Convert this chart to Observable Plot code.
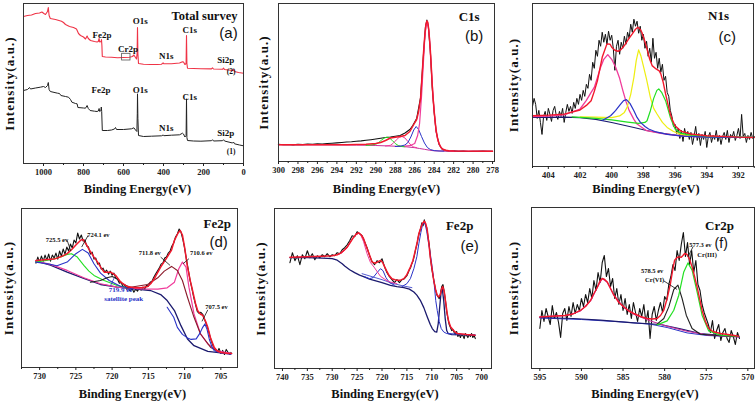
<!DOCTYPE html>
<html><head><meta charset="utf-8">
<script src="https://cdn.jsdelivr.net/npm/d3@7"></script>
<script src="https://cdn.jsdelivr.net/npm/@observablehq/plot@0.6"></script>
<style>
body{margin:0;background:#fff}
#fig{position:relative;width:756px;height:403px;overflow:hidden;background:#fff}
#fig > svg{position:absolute}
</style></head><body><div id="fig"></div>
<script>
// ---------- colours ----------
const RED="#f2182c", PINK="#f03c9b", MAG="#c8309a", BLUE="#2a33c8", NAVY="#1b1a6e",
      GREEN="#22e022", YELLOW="#eeee10", BLACK="#111", BROWN="#8b1a2a", SRED="#ef3346";

// ---------- (a) survey ----------
const surveyTicks=[1000,800,600,400,200,0];
const surveyMinor=[900,700,500,300,100];
const surveyRed=[[1100,147],[1080,148],[1060,148.5],[1040,150],[1020,150.5],[1008,151.5],[998,150],[990,149],[980,152],[976,156],[972,148],[966,145],[940,144],[910,142.3],[900,141],[890,139],[870,137],[850,136],[835,134.5],[825,130],[815,128],[800,126.5],[790,124.5],[782,127.5],[776,125],[765,123],[745,122],[732,121.5],[726,122],[722,125],[719,121.5],[712,122],[710,124],[708,118],[706,107],[690,106.5],[660,106.2],[630,105.8],[600,106],[570,106.3],[555,107],[548,108.5],[540,106],[535,104.5],[532,110],[530,136],[528,110],[525,100],[500,99.3],[465,99],[430,99],[410,99.3],[402,100.6],[398,99.7],[360,99.8],[320,100.5],[305,101.8],[300,101.5],[293,99],[287,100],[285,128],[283,100],[280,95.3],[250,95],[213,94.7],[160,94.6],[155,95.6],[150,94.5],[105,94.2],[100,95.3],[95,94],[55,93],[50,94],[45,92],[25,91],[0,90.3]];
const surveyBlack=[[1100,73],[1080,74],[1070,76],[1065,74.5],[1040,75.5],[1016,76.3],[1000,77],[990,76],[980,78],[976,81],[972,74],[966,72],[930,70.3],[920,70],[913,68],[890,67],[875,66.3],[865,64],[858,61.3],[840,60],[832,59.7],[828,56],[800,55.5],[790,55.3],[782,58],[776,55],[767,53],[745,52.3],[732,52],[726,52.5],[722,55],[719,52],[713,53],[711,56.5],[709,52],[706,33],[680,33],[660,33.5],[645,34.5],[640,36],[635,34],[600,34],[560,34.7],[548,35.7],[540,33.5],[533,32],[531,50],[530,69.7],[528,45],[525,28],[500,27],[460,27.3],[410,27.7],[402,28.5],[398,27.8],[360,28.3],[320,28.7],[305,30.3],[300,29.5],[293,26.5],[287,28],[285,64.7],[283,26],[280,23],[250,22.5],[213,22.3],[160,22.8],[155,23.8],[150,22.5],[105,22.8],[100,23.8],[95,22.5],[55,20.5],[50,21.5],[45,19.7],[20,18.5],[0,17.7]];
const surveyBox=[[607,565,103,109.7]];
const surveyPeakLabels=[[707,128.7,"Fe2p"],[578,114.7,"Cr2p"],[516,142.3,"O1s"],[386,107.3,"N1s"],[269,133,"C1s"],[88.5,103,"Si2p"],[713,73.7,"Fe2p"],[516,73.7,"O1s"],[269,66.3,"C1s"],[386,35.7,"N1s"],[88.5,30.3,"Si2p"]];
const surveyIndex=[[62,92.3,"(2)"],[62,12.3,"(1)"]];

// ---------- (b) C1s ----------
const c1sTicks=[300,298,296,294,292,290,288,286,284,282,280,278];
const c1sMinor=[299,297,295,293,291,289,287,285,283,281,279];
const c1sBlack=[[300,17.3],[299.5,16.8],[299,17.0],[298.5,16.6],[298,17.1],[297.5,16.9],[297,17.4],[296.5,17.2],[296,17.6],[295.5,17.5],[295,18.0],[294.5,18.3],[294,18.6],[293.5,19.0],[293,19.5],[292.5,19.8],[292,20.3],[291.5,20.6],[291,21.2],[290.5,21.8],[290,22.5],[289.5,23.3],[289,24.0],[288.5,24.5],[288,25.2],[287.5,26.0],[287,28.5],[286.5,32],[286.2,36],[285.8,43],[285.4,64],[285.1,107],[284.9,134],[284.75,141.5],[284.6,135],[284.4,111],[284.2,74],[284.0,49],[283.8,30],[283.5,17],[283.2,12.5],[283,11],[282.5,10.2],[282,10.6],[281.5,10.1],[281,10.4],[280.5,10.0],[280,10.3],[279.5,10.1],[279,10.4],[278.5,10.2],[278,10.3]];
const c1sBase=[[300,16.7],[295,16.6],[292,16.4],[290,16],[288,15.3],[287,14.8],[286,13.8],[285.5,13],[285,12.2],[284.5,11.3],[284,10.7],[283,10.4],[278,10.3]];
const c1sGreen=[[291,16.2],[290.5,16.5],[290,17.3],[289.7,19],[289.4,21.5],[289.1,23.6],[288.85,24.3],[288.6,23.5],[288.3,21],[288,18],[287.7,16],[287.3,15],[287,14.7]];
const c1sMag=[[289,15.5],[288.5,16.2],[288.2,18.3],[287.9,21.5],[287.6,24.2],[287.3,25],[287.0,23.5],[286.7,20],[286.4,16.5],[286.1,14.5],[285.8,13.8]];
const c1sBlue=[[288,15],[287.5,15.3],[287,16.5],[286.7,19],[286.4,24.5],[286.1,31.5],[285.85,35],[285.6,32],[285.3,25],[285.0,18.5],[284.7,14],[284.4,12],[284,10.9],[283.5,10.5],[283,10.4]];
const c1sMain=[[287,15.3],[286.5,15.8],[286,18],[285.7,26],[285.5,38],[285.3,65],[285.1,100],[284.95,126],[284.8,137],[284.7,138.5],[284.6,135],[284.5,126],[284.4,111],[284.25,87],[284.1,63],[283.95,45],[283.8,30],[283.6,20.5],[283.4,15.5],[283.2,12.8],[283,11.5],[282.5,10.6],[282,10.4]];
const c1sFit=[[300,16.7],[296,16.7],[293,16.8],[291,17.3],[290,17.9],[289.5,19],[289,21],[288.5,23.5],[288,24.3],[287.5,25],[287,26],[286.5,30],[286.1,37],[285.8,42],[285.6,50],[285.4,63],[285.25,85],[285.1,108],[284.95,128],[284.85,137],[284.75,140.5],[284.65,139],[284.55,131],[284.4,112],[284.3,95],[284.2,76],[284.1,62],[284.0,50],[283.9,40],[283.8,31],[283.65,23],[283.5,18],[283.3,14],[283.1,12.3],[282.8,11.2],[282.5,10.7],[282,10.4],[278,10.3]];

// ---------- (c) N1s ----------
const n1sTicks=[404,402,400,398,396,394,392];
const n1sMinor=[405,403,401,399,397,395,393,391];
const n1sBlack=[[405,60],[404.9,68],[404.8,62],[404.7,48],[404.6,56],[404.5,44],[404.4,32],[404.3,50],[404.2,55],[404.1,46],[404,58],[403.9,52],[403.8,45],[403.7,56],[403.6,60],[403.5,51],[403.4,47],[403.3,55],[403.2,50],[403.1,58],[403,44],[402.9,54],[402.8,62],[402.7,55],[402.6,60],[402.5,53],[402.4,64],[402.3,58],[402.2,68],[402.1,62],[402,72],[401.9,66],[401.8,76],[401.7,70],[401.6,82],[401.5,78],[401.4,92],[401.3,86],[401.2,104],[401.1,98],[401,116],[400.9,110],[400.8,126],[400.7,120],[400.6,134],[400.5,124],[400.4,132],[400.3,122],[400.2,135],[400.1,126],[400,131],[399.9,118],[399.8,96],[399.7,120],[399.6,126],[399.5,112],[399.4,124],[399.3,118],[399.2,130],[399.1,122],[399,134],[398.9,128],[398.8,142],[398.7,134],[398.6,147],[398.5,140],[398.4,145],[398.3,133],[398.2,140],[398.1,126],[398,132],[397.9,118],[397.8,125],[397.7,110],[397.6,118],[397.5,104],[397.4,128],[397.3,108],[397.2,114],[397.1,98],[397,108],[396.9,94],[396.8,102],[396.7,86],[396.6,90],[396.5,74],[396.4,70],[396.3,56],[396.2,50],[396.1,40],[396,42],[395.9,33],[395.8,38],[395.7,28],[395.6,36],[395.5,25],[395.4,38],[395.3,30],[395.2,35],[395.1,27],[395,34],[394.9,22],[394.8,30],[394.7,40],[394.6,26],[394.5,33],[394.4,21],[394.3,32],[394.2,27],[394.1,35],[394,19],[393.9,30],[393.8,34],[393.7,24],[393.6,31],[393.5,27],[393.4,36],[393.3,25],[393.2,31],[393.1,22],[393,30],[392.9,34],[392.8,27],[392.7,36],[392.6,24],[392.5,32],[392.4,29],[392.3,35],[392.2,26],[392.1,31],[392,38],[391.9,28],[391.8,52],[391.7,30],[391.6,33],[391.5,24],[391.4,31],[391.3,27],[391.2,34],[391.1,28],[391,30]];
const n1sBase=[[405,49],[403,49.3],[402,48.8],[401,47],[400,44],[399.3,41.5],[398.6,39],[397.8,36],[397.1,34],[395.7,30.7],[394,29.6],[391,29]];
const n1sPink=[[405,49.7],[404,50.2],[403,51.5],[402,57.4],[401.6,66],[401.3,74],[401.1,79],[400.9,89],[400.7,99],[400.5,107],[400.25,111.7],[400,107],[399.75,99],[399.5,88],[399.3,76],[399.1,65],[398.9,56],[398.6,47],[398.4,42.4],[397.8,35.7],[396.9,33],[395.7,30.7],[394.4,29.7],[391,29]];
const n1sYellow=[[402,49.5],[401,49.2],[400,48.8],[399.5,50.5],[399.2,54],[399.03,59],[398.8,72],[398.6,89],[398.45,106],[398.3,116.4],[398.15,110],[397.98,99],[397.8,87],[397.56,69],[397.35,58],[397.14,52.4],[396.8,44],[396.5,39],[396.1,35],[395.7,32.4],[395,30.5],[394,29.6],[391,29]];
const n1sGreen=[[402.5,49.5],[401,48],[400,46.5],[399,44.3],[398.3,43],[397.9,44],[397.77,45.7],[397.56,55.7],[397.35,68],[397.15,76],[397.03,77.4],[396.85,74],[396.6,65.7],[396.3,49],[396,37.4],[395.6,33],[395.25,32],[394,29.5],[391,29]];
const n1sBlue=[[400.6,46],[400.07,50.7],[399.76,55.7],[399.45,62],[399.25,65.8],[399.07,66.7],[398.85,63],[398.6,55.7],[398.4,49],[398.19,44],[397.9,40],[397.67,37.4],[397.2,34.5],[396.5,32],[395.5,30.3],[394,29.4],[391,29]];
const n1sFit=[[405,50.7],[404,51.3],[403,52.3],[402,56.4],[401.6,61],[401.3,65.7],[401.1,75],[400.9,85.7],[400.6,109],[400.3,122.4],[400.1,122],[400,119],[399.8,116],[399.6,115],[399.4,117],[399.2,120.7],[398.95,127],[398.7,132.4],[398.5,137],[398.35,139],[398.2,137],[398.1,134],[397.95,127],[397.8,119],[397.6,107],[397.45,100.7],[397.2,97.4],[397.0,95.5],[396.9,92.4],[396.75,84],[396.6,72.4],[396.45,62],[396.3,52.4],[396.15,45.5],[396,40.7],[395.6,35],[395,32.4],[394,30.7],[392,29.3],[391,29]];

// ---------- (d) Fe2p ----------
const fedTicks=[730,725,720,715,710,705];
const fedMinor=[732.5,727.5,722.5,717.5,712.5,707.5];
const fedBlack=[[730.5,104],[730.25,110],[730,105],[729.75,111],[729.5,106],[729.25,112],[729,107],[728.75,113],[728.5,106],[728.25,112],[728,109],[727.75,114],[727.5,108],[727.25,116],[727,111],[726.75,118],[726.5,113],[726.25,120],[726,116],[725.75,123],[725.5,119],[725.25,127],[725,124],[724.75,134],[724.5,128],[724.25,132],[724,126],[723.75,127],[723.5,121],[723.25,120],[723,113],[722.75,115],[722.5,108],[722.25,109],[722,103],[721.75,104],[721.5,98],[721.25,99],[721,95],[720.75,97],[720.5,93],[720.25,96],[720,92],[719.75,94],[719.5,89],[719.25,88],[719,84],[718.75,85],[718.5,80],[718.25,82],[718,78],[717.75,79],[717.5,76],[717.25,79],[717,75],[716.75,78],[716.5,76],[716.25,79],[716,77],[715.75,80],[715.5,78],[715.25,82],[715,81],[714.75,85],[714.5,86],[714.25,90],[714,93],[713.75,96],[713.5,99],[713.25,103],[713,104],[712.75,109],[712.5,110],[712.25,114],[712,116],[711.75,121],[711.5,124],[711.25,130],[711,133],[710.75,138],[710.5,135],[710.25,128],[710,119],[709.75,108],[709.5,98],[709.25,87],[709,79],[708.75,70],[708.5,63],[708.25,56],[708,54],[707.75,55],[707.5,53],[707.25,48],[707,43],[706.75,38],[706.5,31],[706.25,25],[706,20],[705.75,18],[705.5,15],[705.25,19],[705,14],[704.75,17],[704.5,13],[704.25,18],[704,15],[703.75,13],[703.6,15]];
const fedNavy=[[730.55,106],[728.5,102],[726.2,95],[724,89],[721.6,82.7],[719.3,80],[717,78.4],[714.7,76.7],[713.3,72.7],[712.4,66.7],[711.4,56.7],[710.5,41.7],[709.6,28.4],[708.7,21.7],[706.8,16],[705,14.5],[703.6,14]];
const fedPink=[[730.55,106],[728.5,102.7],[726.2,96.7],[723.9,89.4],[721.6,83.4],[719.3,80],[716,78.4],[713.7,78],[712.4,79.4],[711.4,85],[710.8,98.4],[710.3,105],[709.8,100],[709.4,80],[708.7,53.4],[707.8,33.4],[706.8,23.4],[705.5,16.7],[703.6,14]];
const fedGreen=[[730.55,105],[728.5,107.4],[727.1,110],[726.2,112.7],[725.6,113.4],[724.8,110],[723.9,101.7],[723.2,96],[722.5,91.7],[721.1,86.7],[719.3,81.7],[717.9,79.4]];
const fedBlue=[[730.55,105],[728.9,103.4],[727.6,101.4],[726.2,105],[725,113.4],[724.1,117.7],[723.3,114],[722.5,103.4],[721.6,94],[720.4,86.7],[718.8,80.7],[717,78.4]];
const fedSat=[[723,85],[721.6,86.7],[720.7,89.4],[720,90.7],[719.3,88.4],[718.6,83.4],[717.4,79.4]];
const fedBrown=[[717.9,79.4],[715.1,82.7],[713.7,89.4],[712.8,96],[711.8,100.7],[711,96.7],[710.3,86.7],[709.6,70],[708.7,50],[707.8,33.4],[706.4,20],[705,15]];
const fedBlue2=[[712.4,60],[711.5,50],[711,40],[710.3,33],[709.6,29.5],[709.1,28],[708.4,28.5],[707.9,34],[707.5,40],[707.2,43.4],[706.9,38],[706.6,28.4],[706.2,20],[705.9,16.7],[705,14.5],[704,13.5],[703.6,13]];
const fedFit=[[730.5,106.7],[729,107.5],[728,108],[727,110.5],[726.2,113.4],[725.5,118],[725,122],[724.3,127],[724,127.5],[723.5,122],[723.2,118],[722.5,110],[722,105],[721.5,99],[721.1,95],[720.5,95],[720.2,95],[719.5,91.7],[718.8,85],[718,81],[717,79.4],[716,79.5],[715.1,80.7],[714.6,84],[714.2,88.4],[713.3,100],[712.4,110],[711.8,117],[711.4,126.7],[710.9,134],[710.6,136.5],[710.3,132],[710,120],[709.6,100],[709.2,86],[708.9,76.7],[708.5,64],[708.2,56.7],[707.8,53],[707.5,52],[707.1,46],[706.8,40],[706.4,29],[705.9,20],[705.5,16.5],[705,15],[704,14],[703.5,14]];
const fedNotes=[[727.6,127.4,"725.5 ev"],[721.9,131.7,"724.1 ev"],[714.8,114.4,"711.8 ev"],[707.7,114.4,"710.6 ev"],[705.6,60.7,"707.5 ev"]];
const fedSatNotes=[[718.8,77.4,"719.9 ev"],[718.4,68,"satellite peak"]];
const fedLeaders=[[726.2,126.7,725.7,116,"#111"],[723.3,131.7,724.2,120,"#111"],[713.3,110,712,101.7,"#111"],[709.4,108.4,710.2,103.4,"#111"],[720.2,81.7,719.7,89.4,BLUE],[706.8,57.4,707.6,46,"#111"]];

// ---------- (e) Fe2p ----------
const feeTicks=[740,735,730,725,720,715,710,705,700];
const feeMinor=[737.5,732.5,727.5,722.5,717.5,712.5,707.5,702.5];
const feeBlack=[[738.5,106],[738,116],[737.5,108],[737,113],[736.5,104],[736,114],[735.5,110],[735,118],[734.5,111],[734,115],[733.5,109],[733,113],[732.5,111],[732,114],[731.5,112],[731,115],[730.5,112],[730,114],[729.5,113],[729,116],[728.5,115],[728,119],[727.5,121],[727,124],[726.5,128],[726,133],[725.5,132],[725,137],[724.5,135],[724,133],[723.5,127],[723,121],[722.5,113],[722,107],[721.5,104],[721,108],[720.5,106],[720,110],[719.5,102],[719,96],[718.5,92],[718,89],[717.5,86],[717,89],[716.5,86],[716,89],[715.5,90],[715,93],[714.75,96],[714.5,99],[714.25,101],[714,105],[713.75,108],[713.5,113],[713.25,119],[713,124],[712.75,131],[712.5,136],[712.25,140],[712,146],[711.75,143],[711.5,149],[711.25,144],[711,141],[710.75,132],[710.5,124],[710.25,110],[710,100],[709.75,93],[709.5,86],[709.25,79],[709,74],[708.75,72],[708.5,70],[708.25,75],[708,82],[707.75,84],[707.5,77],[707.25,68],[707,57],[706.75,50],[706.5,44],[706.25,41],[706,38],[705.75,39],[705.5,36],[705.25,34],[705,37],[704.75,32],[704.5,35],[704.25,31],[704,34],[703.75,33],[703.5,30],[703.25,35],[703,33],[702.75,31],[702.5,34],[702.25,32],[702,35],[701.75,31],[701.5,33],[701.25,30]];
const feeNavy=[[738.5,111],[735,111],[732,110.5],[730,110],[729,108.5],[728,105],[727.5,102.6],[726.5,99],[725.5,96],[724.5,93.5],[723.7,92],[722.5,89.5],[721.6,88.3],[720,86],[718.3,83.3],[717,82],[715.6,81],[714.5,79.5],[713.6,76.6],[713,73.5],[712.3,68.3],[711.6,61],[710.9,51.6],[710.3,44],[709.9,40],[709.4,37],[709,36.5],[708.7,45],[708.4,62],[708.1,78],[707.9,80],[707.6,68],[707.3,50],[707,38],[706.7,35],[706,34],[701.3,33.5]];
const feeBase2=[[724,95],[722,92],[720,89],[718,85.5],[716,83],[714,81]];
const feePink=[[729,114],[728,116],[727,121],[726.3,127],[725.7,131.5],[725.2,134],[724.7,135.5],[724.2,133],[723.7,127],[723,115],[722.3,106],[721.6,101.6],[720.3,92.3],[719,88],[718.3,86.6],[717,85]];
const feeSat=[[723.5,92],[722.5,90],[721.8,91],[721,96],[720.3,100],[719.8,98],[719.2,91],[718.5,86],[717.5,83.5]];
const feeBlue=[[716,82],[715,85],[714.3,90],[713.6,100],[713,112],[712.6,125],[712.2,136],[711.9,143],[711.6,146],[711.3,144],[711,137],[710.6,124],[710.3,115],[709.9,101],[709.5,84],[709.2,68],[708.9,58],[708.5,47],[708.1,40],[707.6,36.6],[707,35],[705,34.5],[701.3,33.5]];
const feeFit=[[738.5,111.5],[735,112],[732,112.5],[730,113],[729,114],[728.3,115.6],[727.5,119],[727,121.6],[726.3,127],[725.7,131.6],[725.2,134.5],[724.7,136],[724.2,134],[723.7,130],[723.2,123],[722.6,115],[722,106.6],[721.3,105.5],[720.8,107],[720.3,108.3],[719.9,106.5],[719.6,103.3],[719.1,98],[718.6,93.3],[718,90],[717,88.3],[716.3,88.5],[715.6,90],[715,94],[714.3,101.6],[713.8,108],[713.3,118.3],[712.9,127],[712.6,135],[712.2,141],[711.9,145],[711.5,147.6],[711.2,145],[710.9,138.3],[710.6,126],[710.3,111.6],[709.9,98],[709.6,88],[709.2,78.3],[708.9,73.5],[708.6,71.6],[708.3,74],[708,80],[707.8,82],[707.5,77],[707.2,66],[706.9,55],[706.6,47],[706.2,41.6],[705.5,37.5],[704.9,35],[703,34],[701.3,33.3]];

// ---------- (f) Cr2p ----------
const crTicks=[595,590,585,580,575,570];
const crMinor=[592.5,587.5,582.5,577.5,572.5];
const crBlack=[[595,40],[594.75,58],[594.5,47],[594.25,60],[594,52],[593.75,44],[593.5,63],[593.25,50],[593,56],[592.75,46],[592.5,31],[592.25,55],[592,60],[591.75,48],[591.5,62],[591.25,52],[591,66],[590.75,55],[590.5,64],[590.25,58],[590,70],[589.75,62],[589.5,74],[589.25,66],[589,80],[588.75,70],[588.5,88],[588.25,78],[588,96],[587.75,86],[587.5,106],[587.25,113],[587,92],[586.75,100],[586.5,82],[586.25,90],[586,70],[585.75,80],[585.5,64],[585.25,74],[585,58],[584.75,70],[584.5,54],[584.25,64],[584,50],[583.75,66],[583.5,56],[583.25,47],[583,60],[582.75,52],[582.5,64],[582.25,46],[582,58],[581.75,30],[581.5,54],[581.25,62],[581,48],[580.75,58],[580.5,66],[580.25,56],[580,72],[579.75,68],[579.5,84],[579.25,92],[579,104],[578.75,98],[578.5,118],[578.25,108],[578,124],[577.75,136],[577.5,112],[577.25,126],[577,104],[576.75,118],[576.5,96],[576.25,108],[576,84],[575.75,78],[575.5,64],[575.25,56],[575,50],[574.75,44],[574.5,36],[574.25,48],[574,30],[573.75,38],[573.5,44],[573.25,28],[573,36],[572.75,40],[572.5,30],[572.25,26],[572,38],[571.75,32],[571.5,24],[571.25,36],[571,30]];
const crNavy=[[595,51],[591,50],[587.7,48.3],[583.7,45.6],[580.5,44],[578.1,39.6],[575.7,35],[573,33],[571.1,32.3]];
const crBlueBase=[[595,50.5],[590,49],[585,46.5],[581.7,44.3],[579.7,41],[577.3,35.6],[574.9,33],[571.1,31.6]];
const crPink=[[595,51.6],[591.7,53],[590.1,57.6],[588.9,67.6],[588.1,81],[587.5,90],[586.9,86.3],[586.1,73.3],[584.9,61],[583.7,54.3],[581.7,47.6],[579.7,42.3],[577.3,37.3],[574.9,33.6],[571.1,31.6]];
const crVI=[[580.9,44.3],[580.1,50],[579.5,61.6],[578.9,79],[578.4,83.3],[577.9,70],[577.4,53.3],[576.7,40],[575.7,34.3],[573.7,33],[571.1,32]];
const crIII=[[580.9,43.6],[579.7,47.6],[578.9,58.3],[578.3,73.3],[577.7,96.6],[577.2,105.6],[576.7,98.3],[576.1,76.6],[575.5,53.3],[574.7,37.6],[573.3,33.3],[571.1,32]];
const crFit=[[595,51.6],[593,52.5],[592,53],[591,54.5],[590.1,58.3],[589.5,62],[588.9,68.3],[588.5,75],[588.1,81],[587.8,87],[587.5,90],[587.2,89],[586.9,86.6],[586.5,80],[586.1,73.3],[585.5,66],[584.9,61.6],[584.3,57.5],[583.7,55],[582.9,52],[582.1,50],[581.5,49.5],[580.9,50],[580.5,53],[580.1,58.3],[579.7,70],[579.3,85],[579,100],[578.8,108.3],[578.5,111],[578.3,111.6],[578,111.2],[577.8,113],[577.6,115],[577.3,114],[577,109],[576.7,101.6],[576.4,92],[576.1,81.6],[575.8,70],[575.5,58.3],[575.1,47],[574.7,40],[574.2,37],[573.3,35],[572,33.5],[571.1,32.3]];
const crNotes=[[575.7,123.3,"577.3 ev"],[574.9,113.3,"Cr(III)"],[581.5,97.6,"578.5 ev"],[581.2,88.3,"Cr(VI)"]];
const crLeaders=[[580.1,87.6,578.5,79,"#111"],[576.6,121.6,577.2,111.6,"#111"]];

// ---------- drawing ----------
const fig=document.getElementById("fig");
const SERIF="'Liberation Serif', 'Times New Roman', serif", SANS="'Liberation Sans', Arial, sans-serif";
function txt(data,o){return Plot.text(data,{x:d=>d[0],y:d=>d[1],text:d=>d[2],fontFamily:o.family||SERIF,fontWeight:o.weight||"bold",fontSize:o.size,fill:o.fill||"#111"});}
function panel(p){
  const marks=[];
  p.curves.forEach(c=>marks.push(Plot.line(c[0],{x:d=>d[0],y:d=>d[1],stroke:c[1],strokeWidth:c[2]||1})));
  if(p.boxes) marks.push(Plot.rect(p.boxes,{x1:d=>d[0],x2:d=>d[1],y1:d=>d[2],y2:d=>d[3],fill:"none",stroke:"#555",strokeWidth:0.8}));
  if(p.leaders) marks.push(Plot.link(p.leaders,{x1:d=>d[0],y1:d=>d[1],x2:d=>d[2],y2:d=>d[3],stroke:d=>d[4],strokeWidth:0.8}));
  (p.texts||[]).forEach(t=>marks.push(txt(t[0],t[1])));
  marks.push(Plot.frame({stroke:"#333",strokeWidth:1}));
  marks.push(Plot.axisX({ticks:p.ticks,tickSize:3,tickPadding:2,tickFormat:d=>String(d),fontSize:8.5,fontWeight:"bold",fontFamily:SERIF}));
  marks.push(Plot.axisX({ticks:p.minor,tickSize:2,tickFormat:()=>""}));
  marks.push(Plot.text(["Binding Energy(eV)"],{text:d=>d,frameAnchor:"bottom",lineAnchor:"middle",textAnchor:"middle",dy:p.xdy,dx:p.xdx||0,fontSize:12.5,fontWeight:"bold",fontFamily:SERIF,fill:"#111"}));
  marks.push(Plot.text(["Intensity(a.u.)"],{text:d=>d,frameAnchor:"left",textAnchor:"middle",lineAnchor:"middle",dx:-p.ydx,rotate:-90,fontSize:13,fontWeight:"bold",fontFamily:SERIF,fill:"#111"}));
  const svg=Plot.plot({width:p.w,height:p.h,marginLeft:p.ml,marginRight:p.mr,marginTop:p.mt,marginBottom:p.mb,
    x:{domain:p.xd},y:{domain:[0,p.ymax],axis:null},color:{type:"identity"},
    style:{fontFamily:SERIF,background:"transparent",color:"#222",overflow:"visible"},marks});
  svg.style.left=p.left+"px"; svg.style.top=p.top+"px";
  d3.select(svg).selectAll("text").filter(function(){return this.textContent==="Intensity(a.u.)";}).style("letter-spacing","1.1px");
  fig.appendChild(svg);
}
panel({left:0,top:0,w:246,h:198,ml:23,mr:3,mt:3,mb:35,xd:[1100,0],ymax:160,ticks:surveyTicks,minor:surveyMinor,xdy:25,xdx:4,ydx:14,
  curves:[[surveyRed,SRED,1.1],[surveyBlack,"#222",1]],boxes:surveyBox,
  texts:[[surveyPeakLabels,{size:9}],[surveyIndex,{size:7.5}],[[[195,148,"Total survey"]],{size:12.5}],[[[75,130.7,"(a)"]],{size:15,family:SANS,weight:"normal"}]]});
panel({left:253,top:0,w:244,h:196,ml:25,mr:3,mt:3,mb:35,xd:[300,277.8],ymax:158,ticks:c1sTicks,minor:c1sMinor,xdy:27,ydx:15,
  curves:[[c1sBlack,BLACK,1.1],[c1sBase,MAG,1],[c1sGreen,GREEN,1],[c1sMag,PINK,1],[c1sBlue,BLUE,1],[c1sMain,PINK,1.2],[c1sFit,RED,1.5]],
  texts:[[[[280.4,145,"C1s"]],{size:13}],[[[279.9,125.3,"(b)"]],{size:15,family:SANS,weight:"normal"}]]});
panel({left:507,top:0,w:249,h:201,ml:25,mr:3,mt:3,mb:35,xd:[405,391.05],ymax:162.7,ticks:n1sTicks,minor:n1sMinor,xdy:22.5,xdx:3,ydx:19,
  curves:[[n1sBlack,BLACK,1],[n1sBase,NAVY,1.1],[n1sPink,PINK,1.3],[n1sYellow,YELLOW,1.2],[n1sGreen,GREEN,1.2],[n1sBlue,BLUE,1.2],[n1sFit,RED,1.4]],
  texts:[[[[393.26,150.7,"N1s"]],{size:13}],[[[392.7,129,"(c)"]],{size:15,family:SANS,weight:"normal"}]]});
panel({left:0,top:205,w:240,h:198,ml:21,mr:3,mt:3,mb:36,xd:[732.5,702.7],ymax:158.4,ticks:fedTicks,minor:fedMinor,xdy:26,xdx:3,ydx:13,
  curves:[[fedBlack,BLACK,1.1],[fedNavy,NAVY,1.3],[fedPink,PINK,1.2],[fedGreen,GREEN,1.1],[fedBlue,BLUE,1.1],[fedSat,"#222",1.1],[fedBrown,BROWN,1.1],[fedBlue2,BLUE,1.1],[fedFit,RED,1.5]],
  leaders:fedLeaders,
  texts:[[fedNotes,{size:6.5}],[fedSatNotes,{size:7,fill:BLUE}],[[[705.5,142.7,"Fe2p"]],{size:13}],[[[705.3,125,"(d)"]],{size:15,family:SANS,weight:"normal"}]]});
panel({left:249,top:205,w:245,h:198,ml:25,mr:3,mt:3,mb:35,xd:[741.6,698],ymax:160.3,ticks:feeTicks,minor:feeMinor,xdy:25.3,xdx:2,ydx:14,
  curves:[[feeBlack,BLACK,1.1],[feeBase2,BLUE,0.8],[feeNavy,NAVY,1.3],[feeSat,BLUE,1],[feePink,PINK,1],[feeBlue,BLUE,1],[feeFit,RED,1.5]],
  texts:[[[[704.4,143.3,"Fe2p"]],{size:13}],[[[702.4,122.6,"(e)"]],{size:15,family:SANS,weight:"normal"}]]});
panel({left:506,top:204,w:250,h:199,ml:25,mr:2,mt:3,mb:35,xd:[596,569.2],ymax:161,ticks:crTicks,minor:crMinor,xdy:25.3,xdx:2,ydx:18,
  curves:[[crBlack,BLACK,1.1],[crBlueBase,BLUE,1],[crNavy,NAVY,1.2],[crPink,MAG,1.1],[crVI,"#222",1.1],[crIII,GREEN,1.2],[crFit,RED,1.4]],
  leaders:crLeaders,
  texts:[[crNotes,{size:6.5}],[[[573.4,142.6,"Cr2p"]],{size:13}],[[[573.2,125,"(f)"]],{size:14,family:SANS,weight:"normal"}]]});
</script></body></html>
